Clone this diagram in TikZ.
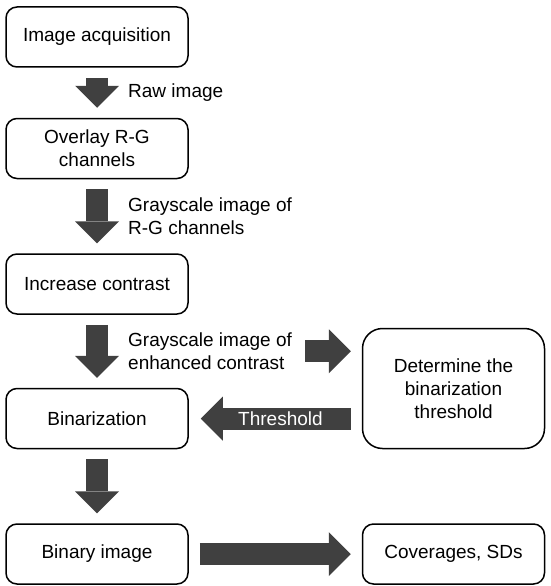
\documentclass[tikz,border=0pt]{standalone}
\usepackage{fontspec}
\setmainfont{Liberation Sans}
\usepackage{xcolor}
\usepackage{tikz}
\usetikzlibrary{arrows.meta,positioning,calc}
\definecolor{arrowgray}{RGB}{64,64,64}

\begin{document}
\begin{tikzpicture}[
  x=1pt, y=1pt,
  font=\fontsize{19}{23}\selectfont,
  box/.style={draw, line width=1.5pt, rounded corners=11pt, align=center, minimum width=182pt, minimum height=60pt},
  bigbox/.style={box, rounded corners=20pt, minimum height=120pt},
  lbl/.style={align=left, inner sep=0pt, anchor=west},
  fat/.style={-{Triangle[width=44pt, length=22pt, line width=0pt]}, line width=22pt, draw=arrowgray, shorten <=10pt, shorten >=10pt}
]
\useasboundingbox (0,0) rectangle (550,-586);
\node[box] (acq) at (97,-37) {Image acquisition};
\node[box, below=50pt of acq] (overlay) {Overlay R-G\\channels};
\node[box, below=74pt of overlay] (contrast) {Increase contrast};
\node[box, below=73pt of contrast] (bin) {Binarization};
\node[box, below=74pt of bin] (binimg) {Binary image};
\node[bigbox, right=173pt of bin.south east, anchor=south west] (det) {Determine the\\binarization\\threshold};
\node[box, right=173pt of binimg] (cov) {Coverages, SDs};

\node[lbl] (raw) at ($(acq.south)!0.5!(overlay.north)+(31,0)$) {Raw image};
\node[lbl] (gray) at ($(overlay.south)!0.5!(contrast.north)+(31,0)$) {Grayscale image of\\R-G channels};
\node[lbl] (enh) at ($(contrast.south)!0.5!(bin.north)+(31,0)$) {Grayscale image of\\enhanced contrast};

\draw[fat] (acq) -- (overlay);
\draw[fat] (overlay) -- (contrast);
\draw[fat] (contrast) -- (bin);
\draw[fat] (bin) -- (binimg);
\draw[fat, shorten <=13pt, shorten >=11pt] (enh.east) -- (det.west |- enh.east);
\draw[fat, shorten <=11pt, shorten >=12pt] (det.west |- bin) -- (bin)
  node[pos=0.47, text=white] (thr) {Threshold};
\draw[fat, shorten <=11pt, shorten >=11pt] (binimg) -- (cov);
\end{tikzpicture}
\end{document}
